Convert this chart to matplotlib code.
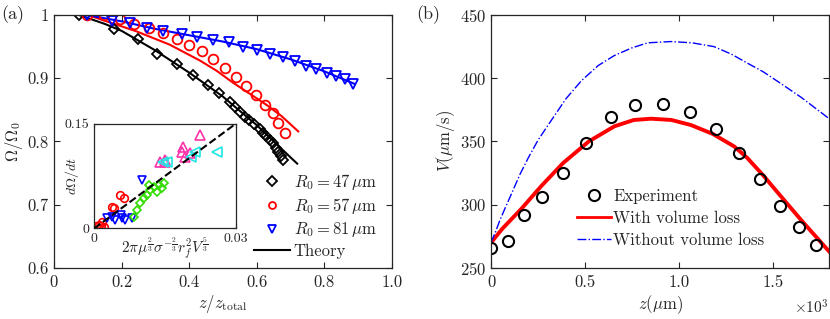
import numpy as np
import matplotlib
matplotlib.use("Agg")
import matplotlib.pyplot as plt

plt.rcParams['font.family'] = 'serif'
plt.rcParams['font.serif'] = ['cmr10', 'DejaVu Serif']
plt.rcParams['mathtext.fontset'] = 'cm'
plt.rcParams['axes.formatter.use_mathtext'] = True
plt.rcParams['axes.unicode_minus'] = False

grey = '#262626'

# ---- panel (a) data: Omega/Omega0 vs z/ztotal
x47 = [0.074, 0.178, 0.248, 0.304, 0.365, 0.411, 0.455, 0.488, 0.521, 0.536, 0.550,
       0.565, 0.578, 0.592, 0.609, 0.620, 0.629, 0.640, 0.649, 0.658, 0.664, 0.672, 0.677]
y47 = [1.000, 0.978, 0.962, 0.939, 0.923, 0.905, 0.890, 0.877, 0.863, 0.855, 0.847,
       0.839, 0.834, 0.827, 0.819, 0.813, 0.808, 0.802, 0.797, 0.790, 0.784, 0.777, 0.770]
x57 = [0.099, 0.149, 0.197, 0.238, 0.281, 0.322, 0.364, 0.401, 0.437, 0.471, 0.506,
       0.538, 0.569, 0.598, 0.624, 0.647, 0.663, 0.684]
y57 = [1.000, 1.000, 0.994, 0.986, 0.979, 0.971, 0.962, 0.953, 0.943, 0.930, 0.916,
       0.902, 0.888, 0.874, 0.858, 0.845, 0.830, 0.814]
x81 = [0.097, 0.171, 0.225, 0.274, 0.323, 0.378, 0.422, 0.471, 0.519, 0.560, 0.601,
       0.641, 0.678, 0.713, 0.746, 0.777, 0.807, 0.834, 0.861, 0.886]
y81 = [1.000, 0.990, 0.987, 0.979, 0.975, 0.970, 0.965, 0.961, 0.957, 0.950, 0.945,
       0.939, 0.933, 0.927, 0.920, 0.915, 0.908, 0.903, 0.899, 0.891]

# theory curves
tx47 = [0.074, 0.15, 0.20, 0.30, 0.40, 0.50, 0.60, 0.70, 0.72]
ty47 = [1.000, 0.986, 0.975, 0.944, 0.909, 0.871, 0.826, 0.775, 0.765]
tx57 = [0.100, 0.245, 0.343, 0.432, 0.481, 0.530, 0.629, 0.674, 0.723]
ty57 = [1.000, 0.974, 0.953, 0.928, 0.912, 0.893, 0.858, 0.840, 0.816]
tx81 = [0.097, 0.20, 0.30, 0.40, 0.50, 0.60, 0.70, 0.80, 0.89]
ty81 = [1.000, 0.990, 0.978, 0.968, 0.958, 0.946, 0.930, 0.911, 0.891]

# ---- inset data: dOmega/dt vs scaling
in_red_x = [0.0005, 0.0010, 0.0015, 0.0020, 0.0017, 0.0039, 0.0042, 0.0055, 0.0063]
in_red_y = [0.0030, 0.0050, 0.0040, 0.0025, 0.0097, 0.0303, 0.0300, 0.0475, 0.0440]
in_blue_x = [0.0027, 0.0038, 0.0045, 0.0056, 0.0059, 0.0066, 0.0080, 0.0101]
in_blue_y = [0.0146, 0.0169, 0.0121, 0.0193, 0.0146, 0.0121, 0.0146, 0.0693]
in_green_x = [0.0084, 0.0091, 0.0098, 0.0105, 0.0112, 0.0116, 0.0119, 0.0126, 0.0133,
              0.0137, 0.0144, 0.0147]
in_green_y = [0.0169, 0.0264, 0.0360, 0.0431, 0.0479, 0.0621, 0.0550, 0.0597, 0.0526,
              0.0621, 0.0574, 0.0645]
in_pink_x = [0.0140, 0.0151, 0.0150, 0.0185, 0.0189, 0.0192, 0.0203, 0.0224]
in_pink_y = [0.0955, 0.0979, 0.0955, 0.1097, 0.1169, 0.1026, 0.1074, 0.1336]
in_cyan_x = [0.0146, 0.0154, 0.0206, 0.0213, 0.0259]
in_cyan_y = [0.0955, 0.0955, 0.1026, 0.1097, 0.1097]
fit_x = [0.0, 0.03]
fit_y = [0.0, 0.15]

# ---- panel (b) data: V vs z
zexp = [0, 93, 175, 270, 385, 503, 636, 768, 917, 1060, 1198, 1321, 1434, 1536, 1637, 1731]
vexp = [266, 271, 292, 306, 325, 349, 369, 379, 380, 373, 360, 341, 320, 299, 282, 268]
zloss = [0, 60, 163, 269, 384, 520, 657, 760, 852, 960, 1064, 1180, 1295, 1364, 1450, 1541, 1650, 1800]
vloss = [270, 281, 297, 315, 333, 350, 362, 367, 368, 367, 363, 356, 346, 337, 323, 307, 288, 263]
znol = [0, 25, 48, 80, 110, 154, 198, 250, 304, 400, 481, 570, 657, 750, 834, 957, 1070, 1187,
        1280, 1364, 1450, 1541, 1650, 1800]
vnol = [270, 279, 288, 299, 309, 324, 337, 351, 363, 384, 398, 410, 418, 424, 428, 429, 428, 425,
        419, 412, 405, 396, 385, 368]

fig = plt.figure(figsize=(8.3, 3.19), dpi=100)

# ---------------- panel (a)
ax1 = fig.add_axes([0.065, 0.16, 0.407, 0.793])
ax1.plot(tx47, ty47, '-', color='k', lw=1.5)
ax1.plot(tx57, ty57, '-', color='r', lw=1.5)
ax1.plot(tx81, ty81, '-', color='b', lw=1.5)
ax1.plot(x47, y47, 'D', mfc='none', mec='k', mew=1.3, ms=5, ls='none')
ax1.plot(x57, y57, 'o', mfc='none', mec='r', mew=1.3, ms=7, ls='none')
ax1.plot(x81, y81, 'v', mfc='none', mec='b', mew=1.3, ms=7, ls='none')
ax1.set_xlim(0, 1)
ax1.set_ylim(0.6, 1.0)
ax1.set_xticks([0, 0.2, 0.4, 0.6, 0.8, 1.0])
ax1.set_xticklabels(['0', '0.2', '0.4', '0.6', '0.8', '1.0'])
ax1.set_yticks([0.6, 0.7, 0.8, 0.9, 1.0])
ax1.set_yticklabels(['0.6', '0.7', '0.8', '0.9', '1'])
ax1.set_xlabel(r'$z/z_{\mathrm{total}}$', fontsize=12, color=grey, labelpad=2)
ax1.set_ylabel(r'$\Omega/\Omega_0$', fontsize=12, color=grey, labelpad=2)

h1, = ax1.plot([], [], 'D', mfc='none', mec='k', mew=1.3, ms=5)
h2, = ax1.plot([], [], 'o', mfc='none', mec='r', mew=1.3, ms=5)
h3, = ax1.plot([], [], 'v', mfc='none', mec='b', mew=1.3, ms=6)
h4, = ax1.plot([], [], '-', color='k', lw=1.5)
leg1 = ax1.legend([h1, h2, h3, h4],
                  [r'$R_0=47\,\mu\mathrm{m}$', r'$R_0=57\,\mu\mathrm{m}$',
                   r'$R_0=81\,\mu\mathrm{m}$', 'Theory'],
                  loc='lower right', bbox_to_anchor=(0.99, -0.01), fontsize=12,
                  frameon=True, framealpha=1, facecolor='white', edgecolor='none',
                  handlelength=2.2, handletextpad=0.2, labelspacing=0.25,
                  borderpad=0.2, fancybox=False)
for t in leg1.get_texts():
    t.set_color(grey)

# ---------------- inset
ax3 = fig.add_axes([0.1133, 0.2837, 0.171, 0.329])
ax3.plot(fit_x, fit_y, '--', color='k', lw=1.5, zorder=5)
ax3.plot(in_red_x, in_red_y, 'o', mfc='none', mec='r', mew=1.2, ms=5.5, ls='none')
ax3.plot(in_blue_x, in_blue_y, 'v', mfc='none', mec='b', mew=1.2, ms=6, ls='none')
ax3.plot(in_green_x, in_green_y, 'D', mfc='none', mec='#33dd00', mew=1.2, ms=4.5, ls='none')
ax3.plot(in_pink_x, in_pink_y, '^', mfc='none', mec='#ff33aa', mew=1.2, ms=6.5, ls='none')
ax3.plot(in_cyan_x, in_cyan_y, '<', mfc='none', mec='#22e6e6', mew=1.2, ms=6.5, ls='none')
ax3.set_xlim(0, 0.03)
ax3.set_ylim(0, 0.15)
ax3.set_xticks([0, 0.03])
ax3.set_xticklabels(['0', '0.03'])
ax3.set_yticks([0, 0.15])
ax3.set_yticklabels(['0', '0.15'])
ax3.set_xlabel(r'$2\pi\mu^{\frac{2}{3}}\sigma^{-\frac{2}{3}}r_f^2V^{\frac{5}{3}}$',
               fontsize=11, color=grey, labelpad=-7)
ax3.set_ylabel(r'$d\Omega/dt$', fontsize=10, color=grey, labelpad=-12)

# ---------------- panel (b)
ax2 = fig.add_axes([0.5916, 0.16, 0.4074, 0.793])
ax2.plot(zloss, vloss, '-', color='r', lw=2.8, label='With volume loss')
ax2.plot(znol, vnol, '-.', color='b', lw=1.0, label='Without volume loss')
ax2.plot(zexp, vexp, 'o', mfc='none', mec='k', mew=1.5, ms=8, ls='none', label='Experiment')
ax2.set_xlim(0, 1800)
ax2.set_ylim(250, 450)
ax2.set_xticks([0, 500, 1000, 1500])
ax2.set_xticklabels(['0', '0.5', '1.0', '1.5'])
ax2.set_yticks([250, 300, 350, 400, 450])
ax2.set_xlabel(r'$z(\mu\mathrm{m})$', fontsize=12, color=grey, labelpad=2)
ax2.set_ylabel(r'$V(\mu\mathrm{m/s})$', fontsize=12, color=grey, labelpad=2)
ax2.text(1.0, -0.12, r'$\times10^3$', transform=ax2.transAxes, ha='right', va='top',
         fontsize=11, color=grey)
hh, ll = ax2.get_legend_handles_labels()
leg2 = ax2.legend([hh[2], hh[0], hh[1]], [ll[2], ll[0], ll[1]], loc='upper left',
                  bbox_to_anchor=(0.255, 0.315), fontsize=12, frameon=False,
                  handlelength=2.0, handletextpad=0.15, labelspacing=0.42,
                  borderpad=0, borderaxespad=0)
for t in leg2.get_texts():
    t.set_color(grey)
leg2.get_lines()[1].set_linewidth(2.0)

for ax in (ax1, ax2, ax3):
    ax.tick_params(direction='in', top=True, right=True, length=4, width=0.8,
                   colors=grey, labelsize=12)
    for s in ax.spines.values():
        s.set_color(grey)
        s.set_linewidth(0.9)
ax3.tick_params(labelsize=10, length=3)
ax1.tick_params(axis='x', pad=5)
ax2.tick_params(axis='x', pad=5)

fig.text(0.002, 0.955, '(a)', fontsize=13, color=grey, va='center', ha='left')
fig.text(0.502, 0.955, '(b)', fontsize=13, color=grey, va='center', ha='left')

fig.savefig('out.png', dpi=100)
